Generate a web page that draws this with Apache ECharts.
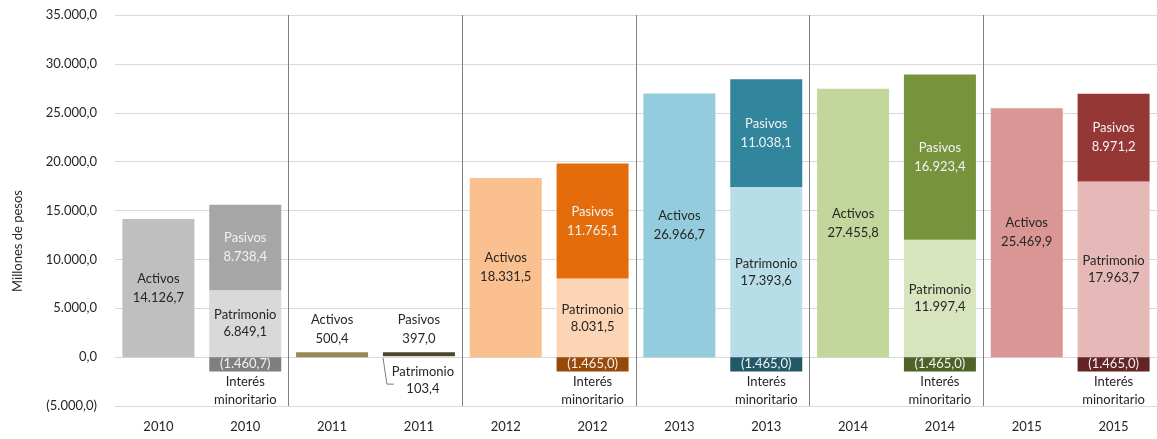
<!DOCTYPE html>
<html>
<head>
<meta charset="utf-8">
<script src="https://cdn.jsdelivr.net/npm/echarts@6/dist/echarts.min.js"></script>
<style>
  html, body { margin: 0; padding: 0; background: #fff; }
  #chart { width: 1157px; height: 439px; }
</style>
</head>
<body>
<div id="chart"></div>
<script>
// one entry per year, each year has two bars
const years = ['2010', '2011', '2012', '2013', '2014', '2015']
const activos = [14126.7, 500.4, 18331.5, 26966.7, 27455.8, 25469.9]
const patrimonio = [6849.1, 103.4, 8031.5, 17393.6, 11997.4, 17963.7]
const pasivos = [8738.4, 397.0, 11765.1, 11038.1, 16923.4, 8971.2]
const interes = [-1460.7, null, -1465.0, -1465.0, -1465.0, -1465.0]
const yTicks = { min: -5000, max: 35000, interval: 5000 }

// colours per year: activos, patrimonio, pasivos, interes
const palette = [
  ['#bfbfbf', '#d9d9d9', '#a6a6a6', '#7f7f7f'],
  ['#948a54', '#ddd9c3', '#4a452a', '#4a452a'],
  ['#fac090', '#fcd5b5', '#e46c0a', '#984807'],
  ['#93cddd', '#b7dee8', '#31859c', '#215968'],
  ['#c3d69b', '#d7e4bd', '#77933c', '#4f6228'],
  ['#d99694', '#e6b9b8', '#953735', '#632523']
]

const font = 'Lato, "Open Sans", sans-serif'
const textColor = '#262626'

function fmt(v) {
  const neg = v < 0
  const parts = Math.abs(v).toFixed(1).split('.')
  const int = parts[0].replace(/\B(?=(\d{3})+(?!\d))/g, '.')
  const s = int + ',' + parts[1]
  return neg ? '(' + s + ')' : s
}

const categories = []
years.forEach(y => { categories.push(y, y) })

function build(values, slot, pairPos, extra) {
  const out = []
  values.forEach((v, i) => {
    const item = { value: v, itemStyle: { color: palette[i][slot] } }
    if (extra) Object.assign(item, extra(i))
    if (pairPos === 0) out.push(item, null)
    else out.push(null, item)
  })
  return out
}

const chart = echarts.init(document.getElementById('chart'))

const option = {
  backgroundColor: '#fff',
  textStyle: { fontFamily: font },
  animation: false,
  grid: { left: 115, right: -6, top: 15, bottom: 33 },
  graphic: [{
    type: 'text',
    x: 18,
    y: 241,
    rotation: Math.PI / 2,
    style: {
      text: 'Millones de pesos',
      font: '13px ' + font,
      fill: textColor,
      align: 'center',
      verticalAlign: 'middle'
    }
  }],
  xAxis: {
    type: 'category',
    data: categories,
    axisLine: { show: false },
    axisTick: { show: false },
    axisLabel: { color: textColor, fontSize: 13, margin: 14, fontFamily: font },
    splitLine: {
      show: true,
      interval: (idx) => idx > 0 && idx % 2 === 0,
      lineStyle: { color: '#808080', width: 1 }
    }
  },
  yAxis: {
    type: 'value',
    min: yTicks.min,
    max: yTicks.max,
    interval: yTicks.interval,
    axisLine: { show: false },
    axisTick: { show: false },
    axisLabel: { color: textColor, fontSize: 13, margin: 18, fontFamily: font, formatter: fmt },
    splitLine: { lineStyle: { color: '#d9d9d9', width: 1 } }
  },
  series: [
    {
      name: 'Activos',
      type: 'bar',
      stack: 'total',
      barWidth: 72,
      data: build(activos, 0, 0, i => i === 1 ? { label: { position: 'top', distance: 4 } } : {}),
      label: {
        show: true,
        position: 'inside',
        color: textColor,
        fontSize: 13,
        lineHeight: 19,
        formatter: p => 'Activos\n' + fmt(p.value)
      }
    },
    {
      name: 'Patrimonio',
      type: 'bar',
      stack: 'total',
      barWidth: 72,
      data: build(patrimonio, 1, 1, i => i === 1 ? { label: { position: 'inside', offset: [4, 24] } } : {}),
      label: {
        show: true,
        position: 'inside',
        color: textColor,
        fontSize: 13,
        lineHeight: 17,
        formatter: p => 'Patrimonio\n' + fmt(p.value)
      }
    },
    {
      name: 'Pasivos',
      type: 'bar',
      stack: 'total',
      barWidth: 72,
      data: build(pasivos, 2, 1, i => i === 1 ? { label: { position: 'top', distance: 4, color: textColor } } : {}),
      label: {
        show: true,
        position: 'inside',
        color: '#f2f2f2',
        fontSize: 13,
        lineHeight: 19,
        formatter: p => 'Pasivos\n' + fmt(p.value)
      }
    },
    {
      name: 'Interés minoritario',
      type: 'bar',
      stack: 'total',
      barWidth: 72,
      data: build(interes, 3, 1),
      label: {
        show: true,
        position: 'inside',
        offset: [0, 18],
        fontSize: 13,
        formatter: p => '{v|' + fmt(p.value) + '}\n{n|Interés}\n{n|minoritario}',
        rich: {
          v: { color: '#f2f2f2', fontSize: 13, lineHeight: 17, fontFamily: font },
          n: { color: textColor, fontSize: 13, lineHeight: 18, fontFamily: font }
        }
      }
    }
  ]
}

chart.setOption(option)

// leader line for the small 2011 Patrimonio label, placed from the axis scales
const base = chart.convertToPixel({ xAxisIndex: 0, yAxisIndex: 0 }, [3, 0])
const halfBar = 36
chart.setOption({
  graphic: [option.graphic[0], {
    type: 'polyline',
    shape: {
      points: [
        [base[0] - halfBar, base[1]],
        [base[0] - halfBar + 4, base[1] + 27],
        [base[0] - halfBar + 11, base[1] + 27]
      ]
    },
    style: { stroke: '#7f7f7f', lineWidth: 1, fill: null }
  }]
})
</script>
</body>
</html>
